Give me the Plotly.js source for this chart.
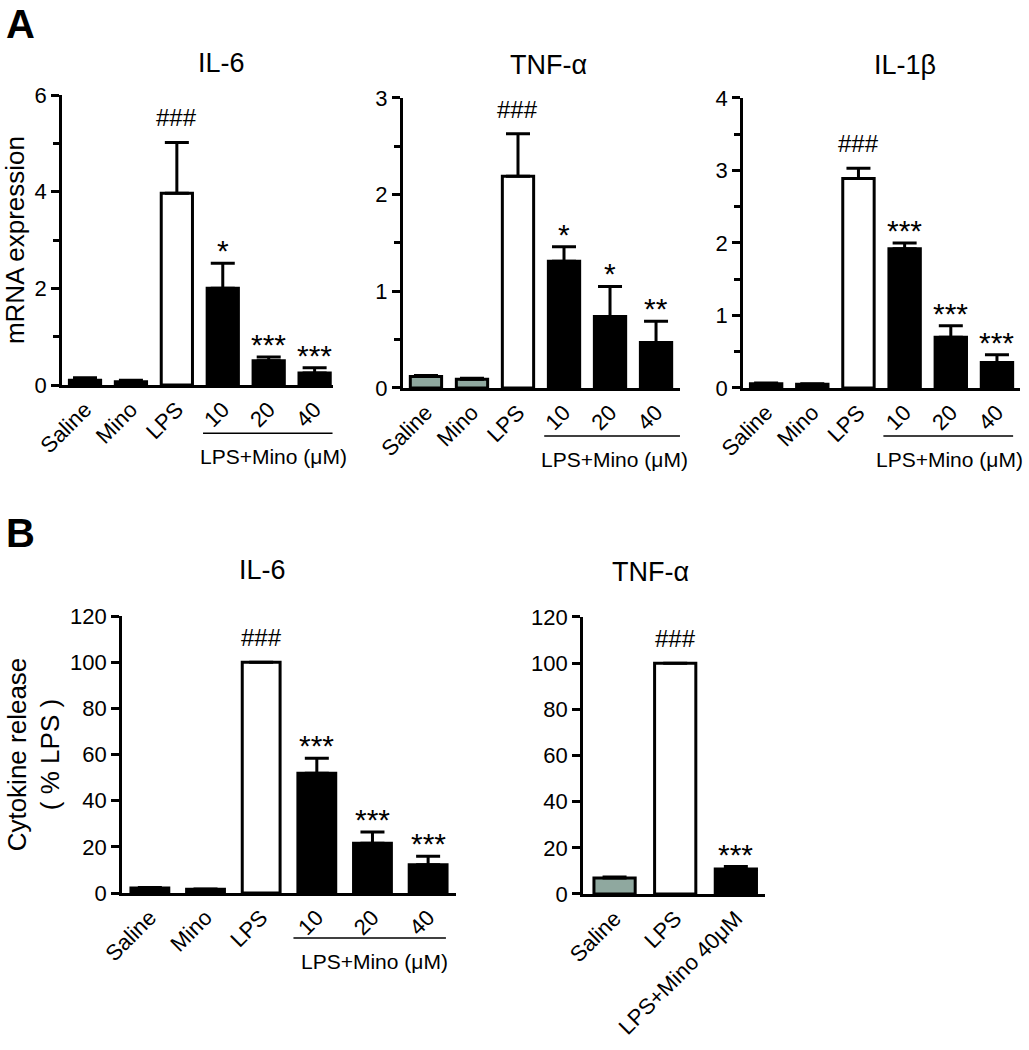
<!DOCTYPE html>
<html>
<head>
<meta charset="utf-8">
<script src="https://cdn.plot.ly/plotly-3.0.1.min.js"></script>
<style>html,body{margin:0;padding:0;background:#fff;}#chart{width:1029px;height:1050px;}</style>
</head>
<body>
<div id="chart"></div>
<script>
// ---- data ----
const cats6 = ['Saline', 'Mino', 'LPS', '10', '20', '40'];
const catsB2 = ['Saline', 'LPS', 'LPS+Mino 40μM'];

const aIL6Mean = [0.10, 0.07, 3.97, 2.00, 0.50, 0.25];
const aIL6Sem  = [0.05, 0.03, 1.05, 0.52, 0.08, 0.11];
const aIL6Sig  = ['', '', '###', '*', '***', '***'];

const aTNFMean = [0.12, 0.09, 2.19, 1.31, 0.74, 0.47];
const aTNFSem  = [0.01, 0.01, 0.44, 0.15, 0.31, 0.22];
const aTNFSig  = ['', '', '###', '*', '*', '**'];

const aIL1Mean = [0.06, 0.05, 2.89, 1.92, 0.70, 0.35];
const aIL1Sem  = [0.01, 0.01, 0.14, 0.08, 0.16, 0.11];
const aIL1Sig  = ['', '', '###', '***', '***', '***'];

const bIL6Mean = [2.2, 1.6, 100, 51.9, 21.6, 12.2];
const bIL6Sem  = [0.2, 0.1, 0, 6.5, 4.8, 3.7];
const bIL6Sig  = ['', '', '###', '***', '***', '***'];

const bTNFMean = [6.9, 100, 10.8];
const bTNFSem  = [0.4, 0, 1.1];
const bTNFSig  = ['', '###', '***'];

const fillBlackCtl = ['#000000', '#000000', '#ffffff', '#000000', '#000000', '#000000'];
const fillGreyCtl  = ['#8fa89f', '#8fa89f', '#ffffff', '#000000', '#000000', '#000000'];
const fill3 = ['#8fa89f', '#ffffff', '#000000'];

const panels = [
  {id: '',  cats: cats6,  mean: aIL6Mean, sem: aIL6Sem, sig: aIL6Sig, fill: fillBlackCtl, title: 'IL-6'},
  {id: '2', cats: cats6,  mean: aTNFMean, sem: aTNFSem, sig: aTNFSig, fill: fillGreyCtl,  title: 'TNF-α'},
  {id: '3', cats: cats6,  mean: aIL1Mean, sem: aIL1Sem, sig: aIL1Sig, fill: fillBlackCtl, title: 'IL-1β'},
  {id: '4', cats: cats6,  mean: bIL6Mean, sem: bIL6Sem, sig: bIL6Sig, fill: fillBlackCtl, title: 'IL-6'},
  {id: '5', cats: catsB2, mean: bTNFMean, sem: bTNFSem, sig: bTNFSig, fill: fill3,        title: 'TNF-α'}
];

// ---- layout geometry (styles) ----
const FONT = 'Liberation Sans, Arial, sans-serif';
const geom = [
  {xd: [0.0603, 0.3236], yd: [0.6333, 0.9095], xr: [-0.5, 5.4], yr: [0, 6],   dt: 2,  mdt: 1,   tx: 0.59, ty: 1.11},
  {xd: [0.3916, 0.6608], yd: [0.6305, 0.9067], xr: [-0.5, 5.52], yr: [0, 3], dt: 1,  mdt: 0.5, tx: 0.527, ty: 1.114},
  {xd: [0.7221, 0.9913], yd: [0.6305, 0.9067], xr: [-0.5, 5.5], yr: [0, 4],  dt: 1,  mdt: 0.5, tx: 0.585, ty: 1.114},
  {xd: [0.1186, 0.4431], yd: [0.1495, 0.4133], xr: [-0.5, 5.5], yr: [0, 120], dt: 20, mdt: null, tx: 0.42, ty: 1.166},
  {xd: [0.5666, 0.7434], yd: [0.1486, 0.4124], xr: [-0.52, 2.48], yr: [0, 120], dt: 20, mdt: null, tx: 0.37, ty: 1.162}
];

const traces = [];
const layout = {
  width: 1029, height: 1050,
  margin: {l: 0, r: 0, t: 0, b: 0},
  paper_bgcolor: '#ffffff', plot_bgcolor: '#ffffff',
  showlegend: false,
  bargap: 0.32,
  font: {family: FONT, color: '#000000', size: 20},
  annotations: [],
  shapes: []
};

panels.forEach((p, i) => {
  const g = geom[i];
  const xa = 'x' + p.id, ya = 'y' + p.id;
  traces.push({
    type: 'bar', x: p.cats, y: p.mean, xaxis: xa, yaxis: ya,
    marker: {color: p.fill, line: {color: '#000000', width: 3}},
    error_y: {type: 'data', symmetric: false, array: p.sem, arrayminus: p.sem.map(() => 0),
              color: '#000000', thickness: 3, width: 12},
    hoverinfo: 'x+y'
  });
  layout['xaxis' + p.id] = {
    domain: g.xd, anchor: ya, type: 'category', range: g.xr,
    showline: true, linewidth: 3, linecolor: '#000000',
    ticks: '', showgrid: false, zeroline: false,
    tickangle: -45, tickfont: {family: FONT, size: 22, color: '#000000'}
  };
  const yax = {
    domain: g.yd, anchor: xa, range: g.yr,
    showline: true, linewidth: 3, linecolor: '#000000',
    ticks: 'outside', ticklen: 8, tickwidth: 3, tickcolor: '#000000',
    dtick: g.dt, tick0: 0, showgrid: false, zeroline: false,
    tickfont: {family: FONT, size: 22, color: '#000000'}
  };
  if (g.mdt) yax.minor = {dtick: g.mdt, ticks: 'outside', ticklen: 6, tickwidth: 3, tickcolor: '#000000', showgrid: false};
  layout['yaxis' + p.id] = yax;

  // panel title
  layout.annotations.push({text: p.title, xref: xa + ' domain', yref: ya + ' domain',
    x: g.tx, y: g.ty, showarrow: false, xanchor: 'center', yanchor: 'middle',
    font: {family: FONT, size: 27, color: '#000000'}});

  // significance marks (x given as category index)
  p.sig.forEach((s, k) => {
    if (!s) return;
    const isHash = s.indexOf('#') >= 0;
    layout.annotations.push({text: s, xref: xa, yref: ya, x: k, y: p.mean[k] + p.sem[k],
      showarrow: false, xanchor: 'center', yanchor: 'bottom', yshift: isHash ? 9 : -6,
      font: {family: FONT, size: isHash ? 24 : 30, color: '#000000'}});
  });
});

// y-axis titles
layout.yaxis.title = {text: 'mRNA expression', standoff: 8, font: {family: FONT, size: 26, color: '#000000'}};
layout.yaxis4.title = {text: 'Cytokine release<br>( % LPS )', standoff: 3, font: {family: FONT, size: 26, color: '#000000'}};

// group brackets "LPS+Mino (μM)"
const brackets = [
  {xa: 'x',  ya: 'y',  x0: 2.57, x1: 5.39, ly: -0.166, tx: 4.1,  ty: -0.248},
  {xa: 'x2', ya: 'y2', x0: 2.57, x1: 5.52, ly: -0.166, tx: 4.09, ty: -0.248},
  {xa: 'x3', ya: 'y3', x0: 2.54, x1: 5.35, ly: -0.166, tx: 3.97, ty: -0.248},
  {xa: 'x4', ya: 'y4', x0: 2.58, x1: 5.32, ly: -0.162, tx: 4.03, ty: -0.249}
];
brackets.forEach(b => {
  layout.shapes.push({type: 'line', xref: b.xa, yref: b.ya + ' domain', x0: b.x0, x1: b.x1,
    y0: b.ly, y1: b.ly, line: {color: '#000000', width: 1.5}});
  layout.annotations.push({text: 'LPS+Mino (μM)', xref: b.xa, yref: b.ya + ' domain',
    x: b.tx, y: b.ty, showarrow: false, xanchor: 'center', yanchor: 'middle',
    font: {family: FONT, size: 21, color: '#000000'}});
});

// panel letters
layout.annotations.push({text: '<b>A</b>', xref: 'paper', yref: 'paper', x: 20 / 1029, y: 1,
  showarrow: false, xanchor: 'center', yanchor: 'top', font: {family: FONT, size: 40, color: '#000000'}});
layout.annotations.push({text: '<b>B</b>', xref: 'paper', yref: 'paper', x: 20 / 1029, y: 1 - 533 / 1050,
  showarrow: false, xanchor: 'center', yanchor: 'middle', font: {family: FONT, size: 40, color: '#000000'}});

Plotly.newPlot('chart', traces, layout, {displayModeBar: false, staticPlot: true});
</script>
</body>
</html>
